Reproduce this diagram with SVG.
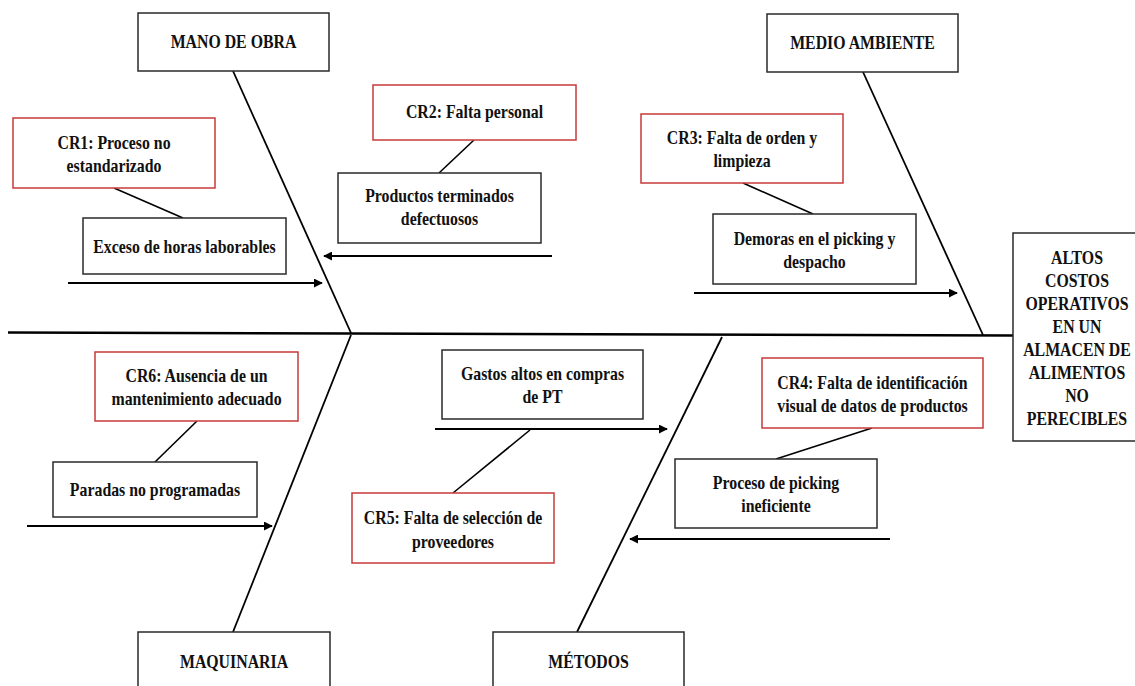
<svg xmlns="http://www.w3.org/2000/svg" width="1135" height="686" viewBox="0 0 1135 686">
  <defs>
    <marker id="arrow" viewBox="0 0 10 10" refX="9" refY="5" markerWidth="4.5" markerHeight="4.5" markerUnits="strokeWidth" orient="auto">
      <path d="M0,0 L10,5 L0,10 Z" fill="#000"/>
    </marker>
    <style>
      .bg { fill: #fff; }
      .box { fill: #fff; stroke: #2a2a2a; stroke-width: 1.5; }
      .cr { fill: #fff; stroke: #c83a3a; stroke-width: 1.5; }
      .lbl { font-family: "Liberation Serif", "Times New Roman", serif; font-weight: bold; font-size: 18px; fill: #111; text-anchor: middle; }
      .spine { stroke: #000; stroke-width: 2.5; fill: none; }
      .bone { stroke: #000; stroke-width: 1.8; fill: none; }
      .link { stroke: #000; stroke-width: 1.6; fill: none; }
      .arr { stroke: #000; stroke-width: 2; fill: none; marker-end: url(#arrow); }
    </style>
  </defs>
  <rect class="bg" x="0" y="0" width="1135" height="686"/>

  <!-- connectors: backbone, category bones, cause arrows and links -->
  <g id="connectors">
    <line class="spine" x1="8" y1="332.5" x2="351" y2="333.5"/>
    <line class="spine" x1="351" y1="333.5" x2="1013" y2="335.5"/>
    <line class="bone" x1="233" y1="71" x2="351" y2="333"/>
    <line class="bone" x1="351" y1="335" x2="233" y2="632"/>
    <line class="bone" x1="863" y1="72" x2="983" y2="335"/>
    <line class="bone" x1="722" y1="337" x2="577" y2="632"/>

    <line class="arr" x1="68" y1="283" x2="322" y2="283"/>
    <line class="arr" x1="552" y1="256" x2="324" y2="256"/>
    <line class="arr" x1="694" y1="293" x2="957" y2="293"/>
    <line class="arr" x1="27" y1="526" x2="272" y2="526"/>
    <line class="arr" x1="435" y1="429" x2="667" y2="429"/>
    <line class="arr" x1="890" y1="539" x2="630" y2="539"/>

    <line class="link" x1="114" y1="188" x2="183" y2="218"/>
    <line class="link" x1="474" y1="140" x2="439" y2="173"/>
    <line class="link" x1="743" y1="183" x2="813" y2="214"/>
    <line class="link" x1="197" y1="421" x2="155" y2="462"/>
    <line class="link" x1="530" y1="430" x2="453" y2="493"/>
    <line class="link" x1="872" y1="428" x2="776" y2="459"/>
  </g>

  <!-- effect -->
  <g id="effect">
    <rect class="box" x="1013" y="233" width="126" height="208"/>
    <g class="lbl">
      <text transform="translate(1077,264) scale(0.88 1)">ALTOS</text>
      <text transform="translate(1077,287) scale(0.88 1)">COSTOS</text>
      <text transform="translate(1077,310) scale(0.88 1)">OPERATIVOS</text>
      <text transform="translate(1077,333) scale(0.88 1)">EN UN</text>
      <text transform="translate(1077,356) scale(0.88 1)">ALMACEN DE</text>
      <text transform="translate(1077,379) scale(0.88 1)">ALIMENTOS</text>
      <text transform="translate(1077,402) scale(0.88 1)">NO</text>
      <text transform="translate(1077,425) scale(0.88 1)">PERECIBLES</text>
    </g>
  </g>

  <!-- categories -->
  <g id="cat-mano-obra">
    <rect class="box" x="138" y="13" width="191" height="58"/>
    <text class="lbl" transform="translate(233.5,48) scale(0.88 1)">MANO DE OBRA</text>
  </g>
  <g id="cat-medio-ambiente">
    <rect class="box" x="767" y="14" width="191" height="58"/>
    <text class="lbl" transform="translate(862.5,49) scale(0.88 1)">MEDIO AMBIENTE</text>
  </g>
  <g id="cat-maquinaria">
    <rect class="box" x="138" y="632" width="192" height="60"/>
    <text class="lbl" transform="translate(234,668) scale(0.88 1)">MAQUINARIA</text>
  </g>
  <g id="cat-metodos">
    <rect class="box" x="493" y="632" width="191" height="60"/>
    <text class="lbl" transform="translate(588.5,668) scale(0.88 1)">MÉTODOS</text>
  </g>

  <!-- causes -->
  <g id="cause-exceso-horas">
    <rect class="box" x="83" y="218" width="203" height="56"/>
    <text class="lbl" transform="translate(184.5,253) scale(0.88 1)">Exceso de horas laborables</text>
  </g>
  <g id="cause-productos-defectuosos">
    <rect class="box" x="338" y="173" width="203" height="70"/>
    <text class="lbl" transform="translate(439.5,202) scale(0.88 1)">Productos terminados</text>
    <text class="lbl" transform="translate(439.5,225) scale(0.88 1)">defectuosos</text>
  </g>
  <g id="cause-demoras-picking">
    <rect class="box" x="713" y="214" width="203" height="70"/>
    <text class="lbl" transform="translate(814.5,245) scale(0.88 1)">Demoras en el picking y</text>
    <text class="lbl" transform="translate(814.5,268) scale(0.88 1)">despacho</text>
  </g>
  <g id="cause-paradas">
    <rect class="box" x="53" y="462" width="204" height="55"/>
    <text class="lbl" transform="translate(155,496) scale(0.88 1)">Paradas no programadas</text>
  </g>
  <g id="cause-gastos-compras">
    <rect class="box" x="442" y="350" width="201" height="69"/>
    <text class="lbl" transform="translate(542.5,380) scale(0.88 1)">Gastos altos en compras</text>
    <text class="lbl" transform="translate(542.5,403) scale(0.88 1)">de PT</text>
  </g>
  <g id="cause-picking-ineficiente">
    <rect class="box" x="675" y="459" width="202" height="69"/>
    <text class="lbl" transform="translate(776,489) scale(0.88 1)">Proceso de picking</text>
    <text class="lbl" transform="translate(776,512) scale(0.88 1)">ineficiente</text>
  </g>

  <!-- root causes -->
  <g id="cr1">
    <rect class="cr" x="13" y="118" width="202" height="70"/>
    <text class="lbl" transform="translate(114,149) scale(0.88 1)">CR1: Proceso no</text>
    <text class="lbl" transform="translate(114,172) scale(0.88 1)">estandarizado</text>
  </g>
  <g id="cr2">
    <rect class="cr" x="373" y="85" width="203" height="55"/>
    <text class="lbl" transform="translate(474.5,118) scale(0.88 1)">CR2: Falta personal</text>
  </g>
  <g id="cr3">
    <rect class="cr" x="641" y="114" width="202" height="69"/>
    <text class="lbl" transform="translate(742,144) scale(0.88 1)">CR3: Falta de orden y</text>
    <text class="lbl" transform="translate(742,167) scale(0.88 1)">limpieza</text>
  </g>
  <g id="cr4">
    <rect class="cr" x="762" y="358" width="221" height="70"/>
    <text class="lbl" transform="translate(872.5,389) scale(0.88 1)">CR4: Falta de identificación</text>
    <text class="lbl" transform="translate(872.5,412) scale(0.88 1)">visual de datos de productos</text>
  </g>
  <g id="cr5">
    <rect class="cr" x="352" y="493" width="202" height="70"/>
    <text class="lbl" transform="translate(453,524) scale(0.88 1)">CR5: Falta de selección de</text>
    <text class="lbl" transform="translate(453,548) scale(0.88 1)">proveedores</text>
  </g>
  <g id="cr6">
    <rect class="cr" x="95" y="352" width="203" height="69"/>
    <text class="lbl" transform="translate(196.5,382) scale(0.88 1)">CR6: Ausencia de un</text>
    <text class="lbl" transform="translate(196.5,405) scale(0.88 1)">mantenimiento adecuado</text>
  </g>
</svg>
